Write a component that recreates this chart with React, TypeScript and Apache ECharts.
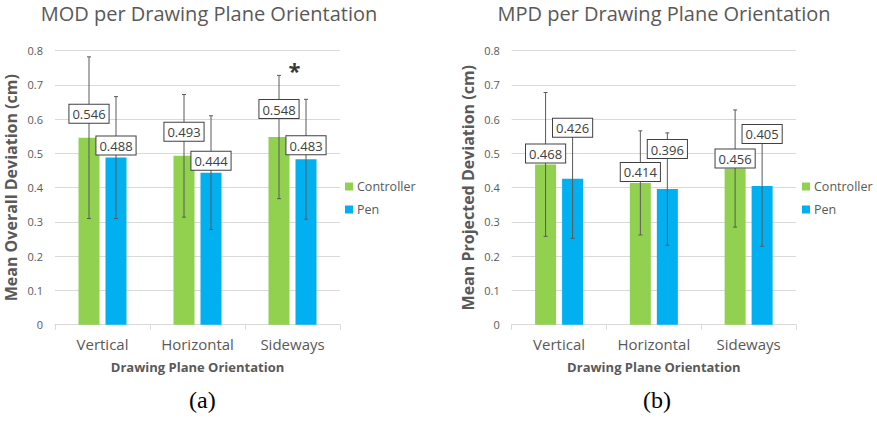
import React, { useEffect, useRef } from "react";
import * as echarts from "echarts";

const categories = ["Vertical", "Horizontal", "Sideways"];
const seriesNames = ["Controller", "Pen"];

const modController = [0.546, 0.493, 0.548];
const modPen = [0.488, 0.444, 0.483];
const modControllerSD = [0.236, 0.179, 0.18];
const modPenSD = [0.178, 0.166, 0.175];

const mpdController = [0.468, 0.414, 0.456];
const mpdPen = [0.426, 0.396, 0.405];
const mpdControllerSD = [0.21, 0.152, 0.171];
const mpdPenSD = [0.174, 0.164, 0.176];

const yMin = 0;
const yMax = 0.8;
const yInterval = 0.1;

// annotation: significance marker on "Sideways" in chart (a)
const significance = [{ category: "Sideways", value: 0.745, text: "*" }];

// styling: how far each value box floats above its bar (px)
const modCtrlLift = [15, 15, 19];
const modPenLift = [3, 3, 5];
const mpdCtrlLift = [2, 2, 1];
const mpdPenLift = [42, 31, 43];

const GREEN = "#92D050";
const BLUE = "#00B0F0";
const TEXT = "#595959";
const GRIDC = "#D9D9D9";
const FONT = "'Open Sans', sans-serif";
const BAR_W = 21;
const BAR_GAP = "28.6%";
const HALF = 13.5;

function errorSeries(name: string, xi: number, means: number[], sds: number[], dx: number) {
  return {
    name,
    type: "custom",
    xAxisIndex: xi,
    yAxisIndex: xi,
    z: 3,
    silent: true,
    data: means.map((m, i) => [i, m, sds[i]]),
    encode: { x: 0, y: 1 },
    renderItem: (params: any, api: any) => {
      const c = api.value(0);
      const m = api.value(1);
      const s = api.value(2);
      const top = api.coord([c, m + s]);
      const bot = api.coord([c, m - s]);
      const x = top[0] + dx;
      const st = { stroke: "#5a5a5a", lineWidth: 1 };
      return {
        type: "group",
        children: [
          { type: "line", shape: { x1: x, y1: top[1], x2: x, y2: bot[1] }, style: st },
          { type: "line", shape: { x1: x - 2, y1: top[1], x2: x + 2, y2: top[1] }, style: st },
          { type: "line", shape: { x1: x - 2, y1: bot[1], x2: x + 2, y2: bot[1] }, style: st },
        ],
      };
    },
  };
}

function barSeries(name: string, xi: number, values: number[], color: string) {
  return {
    name,
    type: "bar",
    xAxisIndex: xi,
    yAxisIndex: xi,
    z: 2,
    barWidth: BAR_W,
    barGap: BAR_GAP,
    itemStyle: { color },
    data: values,
  };
}

function labelSeries(name: string, xi: number, values: number[], lifts: number[]) {
  return {
    name,
    type: "bar",
    xAxisIndex: xi,
    yAxisIndex: xi,
    z: 5,
    silent: true,
    barWidth: BAR_W,
    barGap: BAR_GAP,
    itemStyle: { color: "rgba(0,0,0,0)" },
    data: values.map((v, i) => ({ value: v, label: { distance: lifts[i] } })),
    label: {
      show: true,
      position: "top",
      formatter: (p: any) => Number(p.value).toFixed(3),
      backgroundColor: "#ffffff",
      borderColor: "#404040",
      borderWidth: 1,
      padding: [3, 3, 2, 3],
      color: "#404040",
      fontFamily: FONT,
      fontSize: 13,
    },
  };
}

function visibleX(gi: number) {
  return {
    type: "category",
    gridIndex: gi,
    data: categories,
    axisLine: { lineStyle: { color: GRIDC } },
    axisTick: { show: true, length: 5, lineStyle: { color: GRIDC } },
    axisLabel: { color: TEXT, fontFamily: FONT, fontSize: 15, margin: 12 },
    name: "Drawing Plane Orientation",
    nameLocation: "middle",
    nameGap: 36,
    nameTextStyle: { color: TEXT, fontFamily: FONT, fontSize: 13, fontWeight: "bold" },
  };
}

function hiddenX(gi: number) {
  return { type: "category", gridIndex: gi, data: categories, show: false };
}

function visibleY(gi: number, name: string) {
  return {
    type: "value",
    gridIndex: gi,
    min: yMin,
    max: yMax,
    interval: yInterval,
    axisLine: { show: false },
    axisTick: { show: false },
    splitLine: { lineStyle: { color: GRIDC } },
    axisLabel: { color: TEXT, fontFamily: FONT, fontSize: 11, margin: 12 },
    name,
    nameLocation: "middle",
    nameGap: 36,
    nameTextStyle: { color: TEXT, fontFamily: FONT, fontSize: 16, fontWeight: "bold" },
  };
}

function hiddenY(gi: number) {
  return { type: "value", gridIndex: gi, min: yMin, max: yMax, show: false };
}

function legend(left: number) {
  return {
    data: seriesNames,
    orient: "vertical",
    left,
    top: 178,
    icon: "rect",
    itemWidth: 8,
    itemHeight: 8,
    itemGap: 10,
    padding: 2,
    textStyle: { color: TEXT, fontFamily: FONT, fontSize: 12.5, padding: [0, 0, 0, -1] },
    selectedMode: false,
  };
}

export default function App() {
  const ref = useRef<HTMLDivElement>(null);
  useEffect(() => {
    if (!ref.current) return;
    const chart = echarts.init(ref.current, null, { renderer: "svg" });
    const option: any = {
      animation: false,
      title: [
        {
          text: "MOD per Drawing Plane Orientation",
          left: 204,
          top: -2,
          textAlign: "center",
          textStyle: { color: TEXT, fontFamily: FONT, fontSize: 20, fontWeight: "normal" },
        },
        {
          text: "MPD per Drawing Plane Orientation",
          left: 659,
          top: -2,
          textAlign: "center",
          textStyle: { color: TEXT, fontFamily: FONT, fontSize: 20, fontWeight: "normal" },
        },
      ],
      legend: [legend(343), legend(800)],
      grid: [
        { left: 55, right: 537, top: 50.7, bottom: 99.3 },
        { left: 511.7, right: 81, top: 50.7, bottom: 99.3 },
      ],
      xAxis: [visibleX(0), visibleX(1), hiddenX(0), hiddenX(1)],
      yAxis: [
        visibleY(0, "Mean Overall Deviation (cm)"),
        visibleY(1, "Mean Projected Deviation (cm)"),
        hiddenY(0),
        hiddenY(1),
      ],
      series: [
        barSeries("Controller", 0, modController, GREEN),
        barSeries("Pen", 0, modPen, BLUE),
        barSeries("Controller", 1, mpdController, GREEN),
        barSeries("Pen", 1, mpdPen, BLUE),
        errorSeries("modCtrlErr", 0, modController, modControllerSD, -HALF),
        errorSeries("modPenErr", 0, modPen, modPenSD, HALF),
        errorSeries("mpdCtrlErr", 1, mpdController, mpdControllerSD, -HALF),
        errorSeries("mpdPenErr", 1, mpdPen, mpdPenSD, HALF),
        labelSeries("modCtrlLbl", 2, modController, modCtrlLift),
        labelSeries("modPenLbl", 2, modPen, modPenLift),
        labelSeries("mpdCtrlLbl", 3, mpdController, mpdCtrlLift),
        labelSeries("mpdPenLbl", 3, mpdPen, mpdPenLift),
        {
          name: "significance",
          type: "scatter",
          xAxisIndex: 0,
          yAxisIndex: 0,
          symbolSize: 1,
          itemStyle: { color: "rgba(0,0,0,0)" },
          z: 6,
          data: significance.map((s) => ({ value: [s.category, s.value], name: s.text })),
          label: {
            show: true,
            position: "inside",
            offset: [2, 0],
            formatter: (p: any) => p.name,
            color: "#000",
            fontFamily: FONT,
            fontSize: 22,
            fontWeight: "bold",
          },
        },
      ],
      graphic: [
        {
          type: "text",
          left: 189,
          top: 388,
          style: { text: "(a)", fill: "#000", font: "24px 'Liberation Serif', serif" },
        },
        {
          type: "text",
          left: 643,
          top: 388,
          style: { text: "(b)", fill: "#000", font: "24px 'Liberation Serif', serif" },
        },
      ],
    };
    chart.setOption(option);
    return () => chart.dispose();
  }, []);
  return (
    <div
      ref={ref}
      style={{ position: "fixed", left: 0, top: 0, width: 877, height: 424, background: "#fff" }}
    />
  );
}
